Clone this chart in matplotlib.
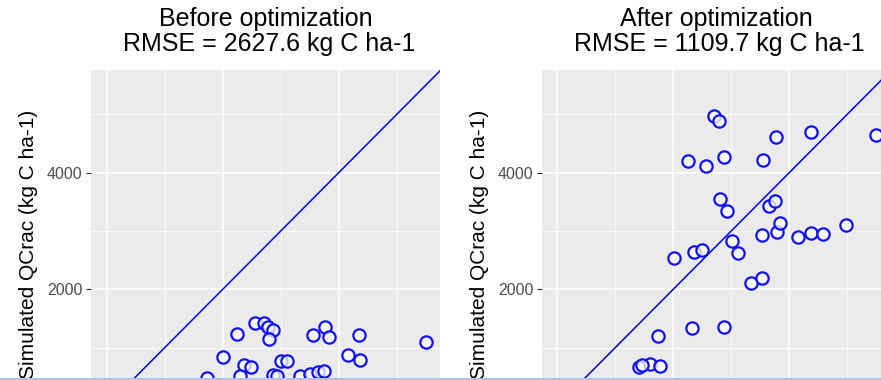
import matplotlib
matplotlib.use("Agg")
import matplotlib.pyplot as plt
import matplotlib.patches as patches
from matplotlib.ticker import MultipleLocator

plt.rcParams['font.family'] = ['Liberation Sans', 'DejaVu Sans']

before_obs = [2255, 2552, 2712, 2781, 2872, 2803, 3557, 3764, 3833, 4355, 5502,
              2000, 2362, 2484, 3000, 3112, 4152, 4362,
              1724, 2305, 2872, 2936, 3328, 3505, 3648, 3747]
before_sim = [1238, 1417, 1431, 1359, 1307, 1151, 1220, 1353, 1182, 1213, 1096,
              844, 707, 672, 770, 770, 878, 782,
              473, 508, 530, 508, 508, 552, 581, 593]

after_obs = [2702, 2793, 2259, 2564, 2874, 3552, 3771, 4369, 5495,
             2805, 2931, 3655, 3753, 3783, 3840, 3524, 4155, 4369, 4586, 4978,
             3007, 3110, 2012, 2357, 2500, 3340, 3534,
             2317, 2874, 1731, 1414, 1598, 1771, 1455]
after_sim = [4973, 4892, 4201, 4115, 4274, 4218, 4618, 4703, 4647,
             3544, 3348, 3434, 3509, 2988, 3142, 2931, 2902, 2971, 2943, 3103,
             2829, 2628, 2542, 2645, 2674, 2103, 2199,
             1331, 1359, 1199, 662, 719, 690, 702]

titles = ["Before optimization", "After optimization"]
rmse = [2627.6, 1109.7]
ylabel = "Simulated QCrac (kg C ha-1)"

W, H = 881, 380
fig = plt.figure(figsize=(W / 100, H / 100), dpi=100)
fig.patch.set_facecolor('white')


def px_axes(left, top, width, height):
    return fig.add_axes([left / W, 1 - (top + height) / H, width / W, height / H])


panels = [(91, before_obs, before_sim), (541.5, after_obs, after_sim)]
for i, (left, xs, ys) in enumerate(panels):
    ax = px_axes(left, 70, 349, 351.7)
    ax.set_facecolor('#EBEBEB')
    ax.set_xlim(-271, 5747)
    ax.set_ylim(-270, 5762)
    for s in ax.spines.values():
        s.set_visible(False)

    ax.xaxis.set_major_locator(MultipleLocator(2000))
    ax.yaxis.set_major_locator(MultipleLocator(2000))
    ax.xaxis.set_minor_locator(MultipleLocator(1000))
    ax.yaxis.set_minor_locator(MultipleLocator(1000))
    ax.grid(which='major', color='white', linewidth=1.1)
    ax.grid(which='minor', color='white', linewidth=0.55)
    ax.set_axisbelow(True)
    ax.tick_params(which='minor', length=0)
    ax.tick_params(which='major', length=3.5, width=0.8, color='#333333',
                   labelcolor='#4D4D4D', labelsize=11.5, pad=2.5)
    # x axis sits below the cropped edge
    ax.tick_params(axis='x', labelbottom=False)

    ax.axline((0, 0), slope=1, color='#0000EE', linewidth=1.1, zorder=2)
    ax.scatter(xs, ys, s=78, facecolors=(1, 1, 1, 0.75), edgecolors='#1010F5',
               linewidths=1.6, zorder=3)

    cx = left + 349 / 2
    fig.text(cx / W, 1 - 26 / H, titles[i], ha='center', va='baseline',
             fontsize=18, color='black')
    fig.text((cx + 3.5) / W, 1 - 51 / H, f"RMSE = {rmse[i]} kg C ha-1",
             ha='center', va='baseline', fontsize=18, color='black')
    fig.text((left - 62) / W, 1 - 244 / H, ylabel, rotation=90,
             ha='center', va='center', fontsize=15, color='black')

# light blue strip along the bottom edge of the screenshot
fig.patches.append(patches.Rectangle((0, 0), 1, 2.3 / H, transform=fig.transFigure,
                                     facecolor='#AEC6E6', edgecolor='none', zorder=10))

fig.savefig('out.png', dpi=100)
